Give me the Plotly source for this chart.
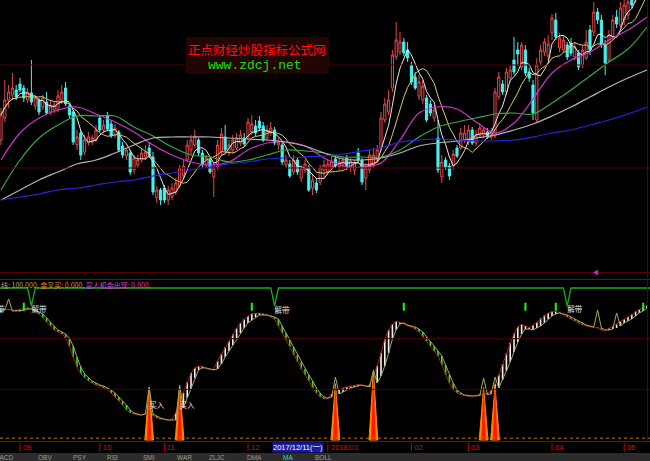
import plotly.graph_objects as go
import pandas as pd

# ======================= DATA =======================
# daily candles (one per trading day, late Aug 2017 .. early May 2018)
open_p = [13.00,14.10,15.00,15.25,15.50,15.80,15.60,15.00,15.35,14.70,
          15.00,14.65,14.90,14.40,14.50,14.50,15.00,15.60,14.70,14.40,
          12.75,13.35,12.40,12.85,12.90,13.00,14.10,13.50,14.20,13.80,
          13.25,13.40,12.70,12.20,12.35,11.50,11.75,12.00,12.15,12.60,
          12.15,10.10,10.50,10.60,10.00,10.15,10.40,10.70,11.25,12.00,
          12.50,12.75,13.00,12.35,11.75,12.00,11.15,11.65,12.40,13.15,
          12.35,12.50,12.60,12.85,13.10,13.15,13.40,13.70,13.95,13.70,
          13.10,13.35,13.50,12.75,12.75,11.75,11.80,11.40,12.00,11.10,
          11.50,11.60,10.60,10.85,10.90,11.50,11.40,11.65,12.05,11.65,
          11.75,12.10,11.60,11.50,12.35,12.00,11.10,11.50,11.75,12.00,
          12.60,14.00,14.40,15.60,17.15,17.40,17.90,17.50,16.75,16.15,
          15.20,15.00,15.10,14.80,14.10,13.10,11.15,12.00,11.70,11.70,
          12.60,12.60,13.00,12.90,13.50,12.85,13.25,13.25,13.40,13.15,
          13.20,15.15,15.80,15.40,16.10,17.00,17.50,16.65,17.50,16.40,
          15.75,14.00,16.90,17.40,17.20,18.35,19.00,17.60,17.50,17.75,
          17.85,17.15,17.35,16.75,17.10,18.50,18.40,19.40,19.00,17.75,
          17.00,18.15,19.15,18.75,19.00,19.25,20.50,20.00,21.00,21.50,
          21.25]
close_p = [14.25,15.00,15.40,15.60,15.15,15.50,15.10,15.40,14.90,15.10,
           14.40,15.10,14.35,14.70,14.75,15.20,15.40,14.80,14.25,12.90,
           13.15,12.25,13.00,13.15,13.10,13.50,13.50,13.75,13.55,13.20,
           13.60,12.50,12.25,12.50,11.40,12.10,12.00,12.35,12.40,12.25,
           10.40,10.50,10.00,10.00,10.50,10.60,10.85,11.60,11.70,12.75,
           13.00,13.20,12.35,11.75,12.10,11.40,11.60,12.75,13.30,12.50,
           12.75,13.00,13.10,13.25,12.80,13.90,13.80,13.35,13.60,13.00,
           13.50,13.60,12.85,12.90,11.90,12.00,11.20,12.00,11.40,11.60,
           11.80,10.50,11.00,10.50,11.60,11.75,11.80,11.95,11.70,11.90,
           12.00,11.65,11.95,11.85,12.00,10.90,11.60,12.25,12.25,12.50,
           14.10,14.80,15.00,17.25,18.00,17.90,17.35,17.10,15.90,15.60,
           15.90,15.70,14.00,14.35,14.50,11.50,11.90,11.65,11.20,12.30,
           12.20,13.35,13.35,13.50,12.85,13.25,13.60,13.50,13.15,13.40,
           15.40,16.15,15.40,16.40,16.50,16.40,17.30,17.75,16.35,16.10,
           14.35,16.75,17.50,17.90,17.80,19.10,18.15,18.10,18.00,17.15,
           17.35,17.65,16.65,17.50,17.90,17.50,19.40,19.00,17.75,16.85,
           18.25,19.00,18.80,19.60,19.75,19.90,19.75,21.00,21.50,21.25,
           21.75]
high_p = [14.60,16.00,15.75,16.35,15.75,16.10,15.75,15.60,17.00,15.25,
          15.10,15.25,15.40,15.00,14.90,15.50,15.75,15.90,14.80,14.50,
          13.50,13.50,13.25,13.40,13.25,13.75,14.25,14.00,14.40,14.00,
          13.80,13.50,12.90,12.60,12.50,12.25,12.25,12.60,12.75,12.85,
          12.40,10.70,10.60,10.75,10.70,10.85,11.10,11.75,12.00,13.00,
          13.25,13.50,13.10,12.50,12.25,12.10,11.90,13.00,13.60,13.75,
          13.00,13.25,13.35,13.50,13.35,14.10,14.25,14.00,14.20,13.90,
          13.75,13.90,13.65,13.10,12.90,12.25,12.00,12.25,12.10,11.75,
          12.00,11.75,11.25,11.10,11.75,12.00,12.00,12.20,12.25,12.10,
          12.20,12.25,12.10,12.00,12.60,12.10,11.85,12.50,12.60,12.75,
          14.40,15.10,15.50,17.50,18.90,18.40,18.10,17.90,16.90,16.40,
          16.25,16.00,15.25,15.00,14.75,14.00,12.25,12.15,11.85,12.50,
          12.75,13.60,13.75,13.75,13.65,13.50,13.85,13.65,13.60,13.60,
          15.60,16.40,16.00,16.60,16.75,18.15,17.90,17.90,17.75,16.60,
          16.00,17.10,17.75,18.10,18.25,19.30,19.35,18.35,18.25,17.90,
          18.10,17.90,17.50,17.75,18.50,18.75,19.90,19.60,19.25,18.00,
          18.50,19.25,19.50,19.90,20.00,20.25,20.75,21.25,22.00,22.00,
          22.25]
low_p = [12.75,13.90,14.60,15.00,15.00,15.40,14.90,14.85,14.75,14.50,
         14.25,14.50,14.25,14.25,14.35,14.40,14.80,14.70,14.10,12.75,
         12.50,12.00,12.25,12.70,12.75,12.90,13.40,13.35,13.45,13.10,
         13.10,12.40,12.10,12.00,11.25,11.30,11.60,11.85,12.00,12.10,
         10.25,9.85,9.75,9.85,9.75,10.00,10.25,10.60,11.10,11.90,
         12.25,12.60,12.20,11.60,11.60,11.30,10.15,11.50,12.20,12.40,
         12.20,12.35,12.50,12.70,12.65,13.00,13.25,13.20,13.50,12.90,
         12.95,13.20,12.75,12.50,11.75,11.60,11.10,11.25,11.25,10.90,
         11.35,10.40,10.25,10.35,10.75,11.10,11.25,11.50,11.60,11.50,
         11.55,11.50,11.40,11.25,11.85,10.75,10.50,11.35,11.60,11.85,
         12.50,13.85,14.25,15.40,17.00,17.25,17.20,16.90,15.75,15.50,
         15.00,14.80,13.90,14.20,13.90,11.35,10.85,11.50,11.00,11.50,
         12.10,12.50,12.85,12.75,12.75,12.70,13.15,13.10,13.05,13.00,
         13.10,15.00,15.25,15.25,15.90,16.25,16.70,16.50,16.20,15.90,
         14.00,13.85,16.70,17.20,17.00,18.00,18.00,17.40,17.35,17.00,
         17.20,17.00,16.50,16.60,17.00,17.25,18.20,18.80,17.60,16.25,
         16.90,18.00,18.60,18.60,18.75,19.00,19.60,19.85,20.75,21.00,
         21.00]

# longer moving averages, every 5 trading days
ma_idx = [0,5,10,15,20,25,30,35,40,45,50,55,60,65,70,75,80,85,90,95,
          100,105,110,115,120,125,130,135,140,145,150,155,160,165,170]
ma20 = [12.00,13.35,14.10,14.50,14.65,14.30,13.90,13.40,12.75,12.25,11.90,11.75,11.90,12.50,12.85,12.90,12.70,12.10,11.70,11.65,
        11.85,13.00,14.35,14.65,14.55,13.90,13.35,13.85,15.05,16.35,17.00,17.40,18.00,18.50,19.15]
ma30 = [10.50,12.00,13.10,13.75,14.20,14.20,14.20,13.65,13.20,12.65,12.25,12.15,11.90,12.00,12.25,12.50,12.45,12.35,12.15,12.15,
        12.15,12.50,13.15,13.65,13.90,14.10,14.30,14.35,14.30,14.85,15.50,16.20,16.90,17.55,18.65]
ma60 = [10.00,10.50,11.00,11.40,11.80,12.00,12.35,12.75,13.10,13.15,13.15,13.15,13.10,13.05,13.00,12.90,12.70,12.35,12.05,12.00,
        12.10,12.35,12.70,12.85,12.95,13.10,13.25,13.50,13.80,14.20,14.65,15.15,15.65,16.10,16.50]
ma120 = [10.00,10.15,10.30,10.50,10.60,10.75,10.90,11.00,11.20,11.35,11.50,11.65,11.80,11.90,12.05,12.10,12.15,12.20,12.30,12.45,
         12.60,12.90,13.00,13.05,13.00,12.95,12.95,13.00,13.15,13.35,13.50,13.75,14.00,14.30,14.65]

# indicator panel (0..100 scale)
slow_v = [84.2,85.5,85.5,84.9,84.9,84.9,85.5,86.2,86.2,85.5,
          84.2,82.9,80.3,77.6,75.0,72.4,71.1,69.7,67.1,61.8,
          54.6,48.0,43.4,40.8,38.8,37.5,36.2,35.5,34.2,32.9,
          30.9,28.3,25.7,23.0,19.7,17.8,17.1,16.4,17.1,17.8,
          17.1,15.8,14.5,13.8,13.2,13.2,13.2,15.8,21.1,27.6,
          33.6,40.8,46.1,47.4,47.4,46.7,46.1,46.7,50.0,54.6,
          58.6,62.5,66.4,70.4,73.7,77.0,78.9,80.9,82.2,82.2,
          82.2,81.6,80.9,79.6,75.0,70.4,65.8,61.2,55.9,51.3,
          46.7,42.8,38.8,34.2,30.9,28.3,27.6,28.3,29.6,30.3,
          31.6,32.9,34.2,34.9,35.5,36.2,35.5,34.9,34.9,37.5,
          42.1,48.7,57.2,66.4,72.4,76.3,77.0,75.7,75.0,74.3,
          73.0,71.1,67.8,65.1,61.8,58.6,55.3,49.3,42.8,37.5,
          32.9,30.9,29.6,29.2,29.0,29.0,29.3,29.6,29.9,30.3,
          31.6,34.2,39.5,45.4,51.3,57.9,64.5,69.7,73.0,73.0,
          72.4,73.7,75.0,77.0,79.6,81.6,82.9,83.6,82.9,82.2,
          80.9,79.6,78.3,77.0,75.7,75.0,74.3,74.3,73.7,72.4,
          72.4,73.0,73.7,75.0,77.0,78.3,79.6,81.6,83.6,84.9,
          86.8]
fast_v = [85.5,86.0,86.0,85.5,85.5,86.0,86.5,87.0,86.5,84.2,
          82.9,80.3,77.6,75.0,72.4,71.1,69.7,67.1,61.8,54.6,
          48.0,43.4,40.8,38.8,37.5,36.2,35.5,34.2,32.9,30.9,
          28.3,25.7,23.0,19.7,17.8,17.1,16.4,16.4,17.5,17.5,
          15.8,14.5,13.8,13.2,13.0,13.5,18.0,25.0,31.0,38.0,
          44.0,47.5,48.5,48.5,47.0,46.3,46.7,52.0,56.5,61.0,
          65.0,69.5,73.5,77.0,79.5,81.5,83.0,83.5,83.5,83.0,
          82.5,80.9,79.6,75.0,70.4,65.8,61.2,55.9,51.3,46.7,
          42.8,38.8,34.2,30.9,28.3,27.0,27.0,30.3,31.6,32.9,
          34.2,34.9,35.5,36.2,36.5,36.0,35.2,36.5,42.1,48.7,
          57.2,66.4,72.4,76.3,78.0,77.5,76.3,75.0,74.3,73.0,
          71.1,67.8,65.1,61.8,58.6,55.3,49.3,42.8,37.5,32.9,
          30.9,29.8,29.0,28.7,28.8,29.4,29.9,30.3,30.8,32.5,
          37.0,43.0,50.0,57.0,64.0,70.0,74.5,76.0,75.0,74.0,
          75.5,77.5,80.0,82.0,83.5,84.5,84.5,84.0,82.2,80.9,
          79.6,78.3,77.0,75.7,75.0,74.3,74.0,73.7,72.4,72.0,
          73.5,74.5,76.0,78.0,79.5,81.0,82.5,84.5,86.0,87.5,
          88.5]
olive_spike_idx = [2, 39, 47, 88, 98, 127, 130, 157, 162]
olive_spike_val = [92.8, 35.0, 36.0, 41.4, 46.1, 40.8, 41.4, 85.5, 83.6]
buy_idx = [39, 47, 88, 98, 127, 130]
buy_val = [34.5, 35.5, 37.0, 44.5, 34.5, 35.5]
buy_label_idx = [39, 47]
buy_label_val = [22.4, 22.4]
line_level = 100.0
dip_idx = [8, 72, 149]
dip_val = [88.0, 88.0, 88.0]
mark_idx = [6, 66, 106, 138, 146, 169]
mark_lo, mark_hi = 85.0, 90.3
band_label_idx = [-3, 8, 72, 149]
band_label_val = [85.3, 85.3, 85.0, 85.5]

month_idx = [5, 26, 43, 65, 86, 108, 123, 145, 164]
month_lbl = ["09", "10", "11", "12", "2018/01", "02", "03", "04", "05"]
cursor_idx = 71
cursor_lbl = "2017/12/11(一)"
tabs = ["MACD", "OBV", "PSY", "RSI", "SMI", "WAR", "ZLJC", "DMA", "MA", "BOLL"]
tab_active = "MA"

# ======================= FIGURE =======================
W, H = 650, 461
N = len(close_p)
idx = list(range(N))
X_RANGE = [-0.263, 170.79]


def px(x):
    return x / W


def py(y):
    return 1 - y / H


fig = go.Figure()

fig.add_trace(go.Candlestick(
    x=idx, open=open_p, high=high_p, low=low_p, close=close_p,
    increasing=dict(line=dict(color="#e84848", width=1), fillcolor="#000000"),
    decreasing=dict(line=dict(color="#48f0f0", width=1), fillcolor="#48f0f0"),
    whiskerwidth=0, xaxis="x", yaxis="y", hoverinfo="skip", showlegend=False))

cs = pd.Series(close_p)
ma5 = cs.rolling(5, min_periods=1).mean()
ma10 = cs.rolling(10, min_periods=1).mean()

fig.add_trace(go.Scatter(x=idx, y=ma5, mode="lines", line=dict(color="#e8e8e8", width=1),
                         xaxis="x", yaxis="y", hoverinfo="skip"))
fig.add_trace(go.Scatter(x=idx, y=ma10, mode="lines", line=dict(color="#d8cc6a", width=1),
                         xaxis="x", yaxis="y", hoverinfo="skip"))
for vals, col in [(ma20, "#d030d0"), (ma30, "#3aa83a"), (ma60, "#b4b4b4"), (ma120, "#2626e0")]:
    fig.add_trace(go.Scatter(x=ma_idx, y=vals, mode="lines", line=dict(color=col, width=1.2, shape="spline"),
                             xaxis="x", yaxis="y", hoverinfo="skip"))

# ---- indicator panel ----
wx, wy, gx, gy = [], [], [], []
for i, (f, s) in enumerate(zip(fast_v, slow_v)):
    if f >= s:
        wx += [i, i, None]; wy += [f, s, None]
    else:
        gx += [i, i, None]; gy += [f, s, None]
fig.add_trace(go.Scatter(x=wx, y=wy, mode="lines", line=dict(color="#f4f4f4", width=1.6),
                         xaxis="x2", yaxis="y2", hoverinfo="skip"))
fig.add_trace(go.Scatter(x=gx, y=gy, mode="lines", line=dict(color="#22e622", width=1.6),
                         xaxis="x2", yaxis="y2", hoverinfo="skip"))
fig.add_trace(go.Scatter(x=idx, y=fast_v, mode="lines", line=dict(color="#b01818", width=1),
                         xaxis="x2", yaxis="y2", hoverinfo="skip"))

# buy spikes
for i, v in zip(buy_idx, buy_val):
    fig.add_trace(go.Scatter(x=[i - 1.15, i, i + 1.15, i - 1.15], y=[0, v, 0, 0], mode="lines",
                             fill="toself", fillcolor="#ff8a00", line=dict(color="#ff8a00", width=1),
                             xaxis="x2", yaxis="y2", hoverinfo="skip"))
    fig.add_trace(go.Scatter(x=[i - 0.55, i, i + 0.55, i - 0.55], y=[0, v * 0.93, 0, 0], mode="lines",
                             fill="toself", fillcolor="#ff1a00", line=dict(color="#ff1a00", width=0.5),
                             xaxis="x2", yaxis="y2", hoverinfo="skip"))

slow_plot = list(slow_v)
for i, v in zip(olive_spike_idx, olive_spike_val):
    slow_plot[i] = v
fig.add_trace(go.Scatter(x=idx, y=slow_plot, mode="lines", line=dict(color="#a8a85a", width=1),
                         xaxis="x2", yaxis="y2", hoverinfo="skip"))

# top signal line with dips
lx, ly = [X_RANGE[0]], [line_level]
for i, v in zip(dip_idx, dip_val):
    lx += [i - 1, i, i + 1]; ly += [line_level, v, line_level]
lx.append(X_RANGE[1]); ly.append(line_level)
fig.add_trace(go.Scatter(x=lx, y=ly, mode="lines", line=dict(color="#1ea81e", width=1.3),
                         xaxis="x2", yaxis="y2", hoverinfo="skip"))

mx, my = [], []
for i in mark_idx:
    mx += [i, i, None]; my += [mark_lo, mark_hi, None]
fig.add_trace(go.Scatter(x=mx, y=my, mode="lines", line=dict(color="#10ff10", width=2),
                         xaxis="x2", yaxis="y2", hoverinfo="skip"))

fig.add_trace(go.Scatter(x=band_label_idx, y=band_label_val, mode="text", text=["解带"] * len(band_label_idx),
                         textposition="middle right", cliponaxis=True,
                         textfont=dict(color="#e0e0e0", size=7.5, family="Noto Sans CJK SC"),
                         xaxis="x2", yaxis="y2", hoverinfo="skip"))
fig.add_trace(go.Scatter(x=buy_label_idx, y=buy_label_val, mode="text", text=["买入"] * len(buy_label_idx),
                         textposition="middle right", cliponaxis=True,
                         textfont=dict(color="#e0e0e0", size=7.5, family="Noto Sans CJK SC"),
                         xaxis="x2", yaxis="y2", hoverinfo="skip"))

shapes = []
red_dim = "#4a0000"
# top panel grid
for yy in (65, 168):
    shapes.append(dict(type="line", xref="paper", yref="paper", x0=0, x1=1, y0=py(yy), y1=py(yy),
                       line=dict(color=red_dim, width=1)))
# indicator grid at 1/3 and 2/3
for v in (100 / 3, 200 / 3):
    shapes.append(dict(type="line", xref="paper", yref="y2", x0=0, x1=1, y0=v, y1=v,
                       line=dict(color=red_dim, width=1)))
shapes.append(dict(type="line", xref="paper", yref="paper", x0=0, x1=1, y0=py(272.5), y1=py(272.5),
                   line=dict(color="#5a0000", width=1)))
shapes.append(dict(type="line", xref="paper", yref="paper", x0=0, x1=1, y0=py(279.5), y1=py(279.5),
                   line=dict(color="#8c0018", width=1)))
# baseline dotted + axis line
shapes.append(dict(type="line", xref="paper", yref="y2", x0=0, x1=1, y0=1.2, y1=1.2,
                   line=dict(color="#c87000", width=1, dash="dot")))
shapes.append(dict(type="line", xref="paper", yref="paper", x0=0, x1=1, y0=py(441.5), y1=py(441.5),
                   line=dict(color="#a00000", width=1)))
# right border
shapes.append(dict(type="line", xref="paper", yref="paper", x0=px(647.5), x1=px(647.5), y0=py(0), y1=py(441),
                   line=dict(color="#5a0000", width=1)))
# month ticks
for m in month_idx:
    shapes.append(dict(type="line", xref="x2", yref="paper", x0=m, x1=m, y0=py(443), y1=py(451.5),
                       line=dict(color="#c00000", width=1)))
# tab bar
shapes.append(dict(type="rect", xref="paper", yref="paper", x0=0, x1=1, y0=0, y1=py(453),
                   fillcolor="#2c2c2c", line=dict(width=0)))
# watermark box
shapes.append(dict(type="rect", xref="paper", yref="paper", x0=px(186), x1=px(329), y0=py(74), y1=py(37),
                   fillcolor="#230505", line=dict(width=0), layer="above"))
# magenta marker
shapes.append(dict(type="path", xref="paper", yref="paper",
                   path=f"M {px(593)} {py(272.5)} L {px(598)} {py(269.5)} L {px(598)} {py(275.5)} Z",
                   fillcolor="#d020d0", line=dict(width=0)))

ann = []
ann.append(dict(text="正点财经炒股指标公式网", xref="paper", yref="paper", x=px(257), y=py(50),
                showarrow=False, font=dict(color="#ff1010", size=12.5, family="Noto Sans CJK SC"),
                xanchor="center", yanchor="middle"))
ann.append(dict(text="www.zdcj.net", xref="paper", yref="paper", x=px(255), y=py(65.5),
                showarrow=False, font=dict(color="#10e010", size=13, family="Liberation Mono"),
                xanchor="center", yanchor="middle"))
title = ("<span style='color:#a8a85a'>线: 100.000, </span>"
         "<span style='color:#e08a20'>金叉买: 0.000, </span>"
         "<span style='color:#d040d0'>富人机会出现: 0.000,</span>")
ann.append(dict(text=title, xref="paper", yref="paper", x=px(-1), y=py(284.5), showarrow=False,
                font=dict(size=7, family="Noto Sans CJK SC"), xanchor="left", yanchor="middle"))
for m, t in zip(month_idx, month_lbl):
    ann.append(dict(text=t, xref="x2", yref="paper", x=m, y=py(447.5), showarrow=False, xshift=1,
                    font=dict(color="#d41010", size=7.5, family="Liberation Sans"),
                    xanchor="left", yanchor="middle"))
ann.append(dict(text=cursor_lbl, xref="x2", yref="paper", x=cursor_idx, y=py(447.5), showarrow=False, xshift=1,
                font=dict(color="#ffffff", size=7.5, family="Liberation Sans, Noto Sans CJK SC"),
                bgcolor="#1a1aa0", borderpad=0, xanchor="left", yanchor="middle"))
tab_x = [-8, 36, 71, 105, 141, 175, 207, 245, 281, 313]
for t, xx in zip(tabs, tab_x):
    ann.append(dict(text=t, xref="paper", yref="paper", x=px(xx), y=py(457.5), showarrow=False,
                    font=dict(color="#00e0e0" if t == tab_active else "#9c9c9c", size=6.5, family="Liberation Sans"),
                    xanchor="left", yanchor="middle"))

fig.update_layout(
    width=W, height=H, margin=dict(l=0, r=0, t=0, b=0),
    paper_bgcolor="#000000", plot_bgcolor="#000000", showlegend=False,
    boxgap=0.2,
    xaxis=dict(domain=[0, 1], range=X_RANGE, visible=False, anchor="y", rangeslider=dict(visible=False)),
    xaxis2=dict(domain=[0, 1], range=X_RANGE, visible=False, anchor="y2"),
    yaxis=dict(domain=[1 - 271 / H, 1], range=[6.45, 20.0], visible=False),
    yaxis2=dict(domain=[1 - 441 / H, 1 - 280 / H], range=[-0.658, 105.26], visible=False),
    shapes=shapes, annotations=ann,
)

fig.write_html("out.html", config={"staticPlot": True},
               post_script="document.body.style.margin='0';document.body.style.overflow='hidden';"
                           "document.documentElement.style.background='#000';")
